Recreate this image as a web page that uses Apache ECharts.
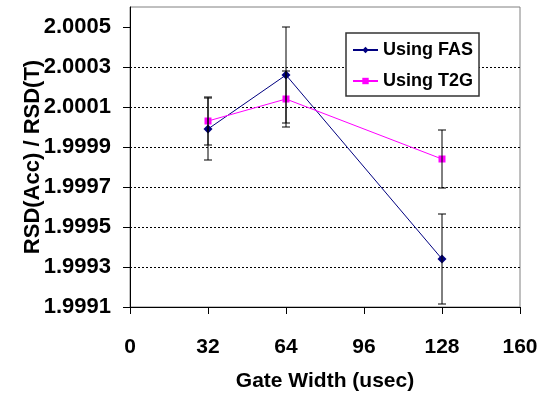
<!DOCTYPE html>
<html>
<head>
<meta charset="utf-8">
<script src="https://cdn.jsdelivr.net/npm/echarts@6/dist/echarts.min.js"></script>
<style>
html,body{margin:0;padding:0;background:#fff;}
#c{width:550px;height:402px;}
</style>
</head>
<body>
<div id="c"></div>
<script>
// ---- data ----
const gateWidths = [32, 64, 128];
const fasValues = [1.99999, 2.00026, 1.99934];
const fasErrors = [0.000155, 0.00024, 0.000225];
const t2gValues = [2.00003, 2.00014, 1.99984];
const t2gErrors = [0.00012, 0.00014, 0.000145];
const xTicks = [0, 32, 64, 96, 128, 160];
const yTickLabels = ['1.9991', '1.9993', '1.9995', '1.9997', '1.9999', '2.0001', '2.0003', '2.0005'];

// y axis is drawn in units of 1e-4 above the base so ticks start at the axis minimum
const Y_BASE = 1.9991;
const Y_UNIT = 0.0001;
const toAxis = v => (v - Y_BASE) / Y_UNIT;

const FONT = "'Liberation Sans Narrow', 'Arial Narrow', 'Liberation Sans', Arial, sans-serif";

function lineData(vals) {
  return gateWidths.map((x, i) => [x, toAxis(vals[i])]);
}
function errData(vals, errs) {
  return gateWidths.map((x, i) => [x, toAxis(vals[i] - errs[i]), toAxis(vals[i] + errs[i])]);
}
function renderErr(params, api) {
  const x = api.value(0);
  const lo = api.coord([x, api.value(1)]);
  const hi = api.coord([x, api.value(2)]);
  const w = 4;
  const style = { stroke: '#000', lineWidth: 1 };
  return {
    type: 'group',
    children: [
      { type: 'line', shape: { x1: lo[0], y1: lo[1], x2: hi[0], y2: hi[1] }, style },
      { type: 'line', shape: { x1: lo[0] - w, y1: lo[1], x2: lo[0] + w, y2: lo[1] }, style },
      { type: 'line', shape: { x1: hi[0] - w, y1: hi[1], x2: hi[0] + w, y2: hi[1] }, style }
    ]
  };
}

const chart = echarts.init(document.getElementById('c'), null, { renderer: 'canvas' });
chart.setOption({
  animation: false,
  backgroundColor: '#fff',
  textStyle: { fontFamily: FONT },
  grid: {
    left: 130, right: 30, top: 7, bottom: 95,
    show: true, borderColor: '#808080', borderWidth: 1, backgroundColor: '#fff'
  },
  legend: {
    left: 346, top: 33,
    orient: 'vertical',
    itemGap: 13,
    itemWidth: 25, itemHeight: 8,
    padding: [8, 6, 6, 6],
    backgroundColor: '#fff',
    borderColor: '#333', borderWidth: 1.5,
    textStyle: { fontFamily: FONT, fontWeight: 'bold', fontSize: 18, color: '#000' },
    data: ['Using FAS', 'Using T2G']
  },
  xAxis: {
    type: 'value',
    min: xTicks[0], max: xTicks[xTicks.length - 1], interval: 32,
    name: 'Gate Width (usec)',
    nameLocation: 'middle', nameGap: 64, nameMoveOverlap: false,
    nameTextStyle: { fontFamily: FONT, fontWeight: 'bold', fontSize: 21, color: '#000' },
    axisLine: { lineStyle: { color: '#000', width: 1 } },
    axisTick: { show: true, inside: false, length: 7, lineStyle: { color: '#000' } },
    axisLabel: { margin: 30, fontFamily: FONT, fontWeight: 'bold', fontSize: 21, color: '#000' },
    splitLine: { show: false }
  },
  yAxis: {
    type: 'value',
    min: 0, max: 15, interval: 2,
    name: 'RSD(Acc) / RSD(T)',
    nameLocation: 'middle', nameGap: 86, nameRotate: 90, nameMoveOverlap: false,
    nameTextStyle: { fontFamily: FONT, fontWeight: 'bold', fontSize: 22, color: '#000' },
    axisLine: { show: true, lineStyle: { color: '#000', width: 1 } },
    axisTick: { show: true, inside: false, length: 7, lineStyle: { color: '#000' },
                customValues: yTickLabels.map(s => toAxis(parseFloat(s))) },
    axisLabel: {
      margin: 19, fontFamily: FONT, fontWeight: 'bold', fontSize: 22, color: '#000',
      formatter: v => {
        const i = Math.round(v / 2);
        return (Math.abs(v - i * 2) < 1e-6 && i < yTickLabels.length) ? yTickLabels[i] : '';
      }
    },
    splitLine: { show: true, showMinLine: false, showMaxLine: false,
                 lineStyle: { color: '#000', type: [2, 2], width: 1 } }
  },
  series: [
    {
      name: 'Using FAS', type: 'line', data: lineData(fasValues),
      symbol: 'diamond', symbolSize: 9,
      lineStyle: { color: '#000080', width: 1 },
      itemStyle: { color: '#000080' }, z: 3
    },
    {
      name: 'Using T2G', type: 'line', data: lineData(t2gValues),
      symbol: 'rect', symbolSize: 7,
      lineStyle: { color: '#FF00FF', width: 1 },
      itemStyle: { color: '#FF00FF' }, z: 3
    },
    {
      type: 'custom', name: 'fasErr', data: errData(fasValues, fasErrors),
      renderItem: renderErr, z: 4, silent: true,
      encode: { x: 0, y: [1, 2] }
    },
    {
      type: 'custom', name: 't2gErr', data: errData(t2gValues, t2gErrors),
      renderItem: renderErr, z: 4, silent: true,
      encode: { x: 0, y: [1, 2] }
    }
  ]
});
</script>
</body>
</html>
